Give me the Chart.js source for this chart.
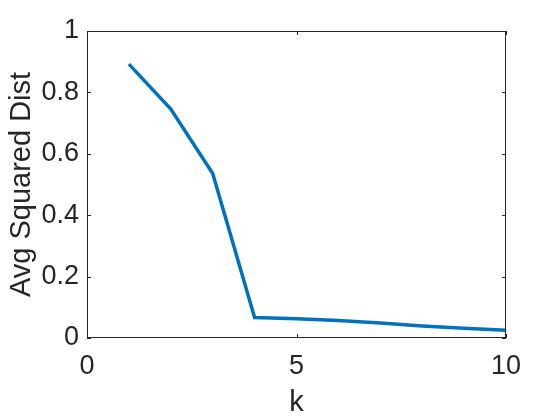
<!DOCTYPE html>
<html lang="en">
<head>
  <meta charset="UTF-8">
  <title>Avg Squared Dist</title>
  <style>
    html, body { margin: 0; padding: 0; background: #fff; }
    canvas#chartCanvas { display: block; }
  </style>
  <script src="https://cdn.jsdelivr.net/npm/chart.js"></script>
</head>
<body>
  <canvas id="chartCanvas" width="560" height="420"></canvas>

  <script>
    // data
    const kValues = [1, 2, 3, 4, 5, 6, 7, 8, 9, 10];
    const avgDist = [0.892, 0.746, 0.536, 0.067, 0.063, 0.057, 0.049, 0.039, 0.032, 0.025];
    const xTicks = [0, 5, 10];
    const yTicks = [0, 0.2, 0.4, 0.6, 0.8, 1];

    const axisColor = "#262626";
    const fontFamily = "'Liberation Sans', Arial, Helvetica, sans-serif";

    // MATLAB style box with inward ticks on all four sides
    const boxPlugin = {
      id: "boxTicks",
      afterDraw(chart) {
        const ctx = chart.ctx;
        const a = chart.chartArea;
        const xs = chart.scales.x, ys = chart.scales.y;
        const len = 4;
        ctx.save();
        ctx.strokeStyle = axisColor;
        ctx.lineWidth = 1;
        ctx.strokeRect(a.left + 0.5, a.top + 0.5, a.right - a.left - 1, a.bottom - a.top - 1);
        ctx.beginPath();
        xTicks.forEach(v => {
          const px = Math.round(xs.getPixelForValue(v)) + 0.5;
          ctx.moveTo(px, a.bottom); ctx.lineTo(px, a.bottom - len);
          ctx.moveTo(px, a.top); ctx.lineTo(px, a.top + len);
        });
        yTicks.forEach(v => {
          const py = Math.round(ys.getPixelForValue(v)) + 0.5;
          ctx.moveTo(a.left, py); ctx.lineTo(a.left + len, py);
          ctx.moveTo(a.right, py); ctx.lineTo(a.right - len, py);
        });
        ctx.stroke();
        ctx.restore();
      }
    };

    new Chart(document.getElementById("chartCanvas").getContext("2d"), {
      type: "line",
      data: {
        datasets: [{
          data: kValues.map((k, i) => ({ x: k, y: avgDist[i] })),
          borderColor: "#0072BD",
          borderWidth: 3.5,
          pointRadius: 0,
          fill: false,
          tension: 0
        }]
      },
      options: {
        responsive: false,
        animation: false,
        layout: { padding: { top: 31, right: 54, left: 0, bottom: 0 } },
        plugins: {
          legend: { display: false },
          tooltip: { enabled: false }
        },
        scales: {
          x: {
            type: "linear",
            min: 0, max: 10,
            afterBuildTicks: s => { s.ticks = xTicks.map(v => ({ value: v })); },
            afterFit: s => { s.height = 82; },
            grid: { display: false, drawTicks: false },
            border: { display: false },
            ticks: {
              color: axisColor, padding: 12, maxRotation: 0,
              callback: v => String(v),
              font: { family: fontFamily, size: 27 }
            },
            title: {
              display: true, text: "k", color: axisColor,
              padding: { top: 0, bottom: 0 },
              font: { family: fontFamily, size: 29 }
            }
          },
          y: {
            min: 0, max: 1,
            afterBuildTicks: s => { s.ticks = yTicks.map(v => ({ value: v })); },
            afterFit: s => { s.width = 87; },
            grid: { display: false, drawTicks: false },
            border: { display: false },
            ticks: {
              color: axisColor, padding: 8,
              callback: v => String(v),
              font: { family: fontFamily, size: 27 }
            },
            title: {
              display: true, text: "Avg Squared Dist", color: axisColor,
              padding: { top: 5, bottom: 0 },
              font: { family: fontFamily, size: 29 }
            }
          }
        }
      },
      plugins: [boxPlugin]
    });
  </script>
</body>
</html>
